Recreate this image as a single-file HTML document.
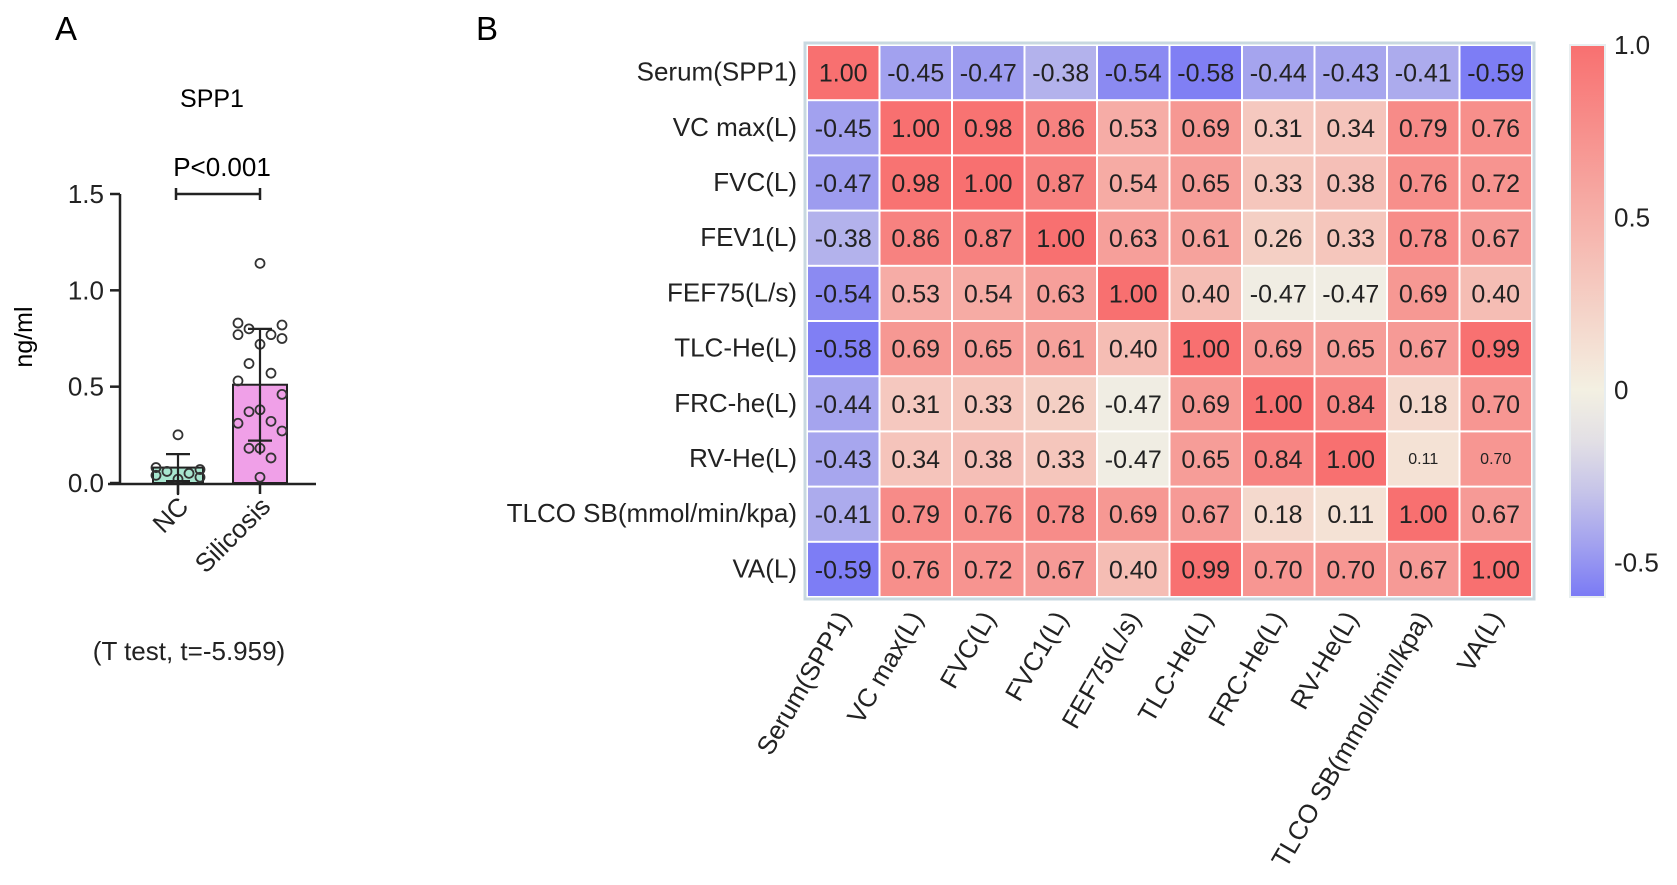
<!DOCTYPE html>
<html><head><meta charset="utf-8">
<style>
html,body{margin:0;padding:0;background:#fff;}
svg{display:block;font-family:"Liberation Sans",Arial,sans-serif;}
</style></head>
<body>
<svg id="fig" width="1677" height="885" viewBox="0 0 1677 885">
<g id="panelA"></g>
<g id="panelB"></g>
</svg>
<script>
// ---------- Panel A data ----------
const groups = ["NC","Silicosis"];
const means = [0.08, 0.51];
const sdUp = [0.15, 0.80];
const sdDown = [0.01, 0.22];
const ncPoints = [0.25, 0.08, 0.07, 0.06, 0.05, 0.04, 0.03, 0.02];
const silPoints = [1.14, 0.83, 0.82, 0.80, 0.77, 0.77, 0.75, 0.72, 0.62, 0.57, 0.53, 0.46, 0.38, 0.37, 0.32, 0.31, 0.27, 0.18, 0.18, 0.13, 0.03];
const yTicksA = [0.0, 0.5, 1.0, 1.5];
const yTickLabelsA = ["0.0","0.5","1.0","1.5"];

// ---------- Panel B data ----------
const rowLabels = ["Serum(SPP1)","VC max(L)","FVC(L)","FEV1(L)","FEF75(L/s)","TLC-He(L)","FRC-he(L)","RV-He(L)","TLCO SB(mmol/min/kpa)","VA(L)"];
const colLabels = ["Serum(SPP1)","VC max(L)","FVC(L)","FVC1(L)","FEF75(L/s)","TLC-He(L)","FRC-He(L)","RV-He(L)","TLCO SB(mmol/min/kpa)","VA(L)"];
const cellText = [
 ["1.00","-0.45","-0.47","-0.38","-0.54","-0.58","-0.44","-0.43","-0.41","-0.59"],
 ["-0.45","1.00","0.98","0.86","0.53","0.69","0.31","0.34","0.79","0.76"],
 ["-0.47","0.98","1.00","0.87","0.54","0.65","0.33","0.38","0.76","0.72"],
 ["-0.38","0.86","0.87","1.00","0.63","0.61","0.26","0.33","0.78","0.67"],
 ["-0.54","0.53","0.54","0.63","1.00","0.40","-0.47","-0.47","0.69","0.40"],
 ["-0.58","0.69","0.65","0.61","0.40","1.00","0.69","0.65","0.67","0.99"],
 ["-0.44","0.31","0.33","0.26","-0.47","0.69","1.00","0.84","0.18","0.70"],
 ["-0.43","0.34","0.38","0.33","-0.47","0.65","0.84","1.00","0.11","0.70"],
 ["-0.41","0.79","0.76","0.78","0.69","0.67","0.18","0.11","1.00","0.67"],
 ["-0.59","0.76","0.72","0.67","0.40","0.99","0.70","0.70","0.67","1.00"]
];
// numeric values used for cell colour (as shown in the picture)
const cellValues = [
 [1.00,-0.45,-0.47,-0.38,-0.54,-0.58,-0.44,-0.43,-0.41,-0.59],
 [-0.45,1.00,0.98,0.86,0.53,0.69,0.31,0.34,0.79,0.76],
 [-0.47,0.98,1.00,0.87,0.54,0.65,0.33,0.38,0.76,0.72],
 [-0.38,0.86,0.87,1.00,0.63,0.61,0.26,0.33,0.78,0.67],
 [-0.54,0.53,0.54,0.63,1.00,0.40,-0.047,-0.047,0.69,0.40],
 [-0.58,0.69,0.65,0.61,0.40,1.00,0.69,0.65,0.67,0.99],
 [-0.44,0.31,0.33,0.26,-0.047,0.69,1.00,0.84,0.18,0.70],
 [-0.43,0.34,0.38,0.33,-0.047,0.65,0.84,1.00,0.11,0.70],
 [-0.41,0.79,0.76,0.78,0.69,0.67,0.18,0.11,1.00,0.67],
 [-0.59,0.76,0.72,0.67,0.40,0.99,0.70,0.70,0.67,1.00]
];
const cbTicks = [1.0, 0.5, 0, -0.5];
const cbTickLabels = ["1.0","0.5","0","-0.5"];

const NS = "http://www.w3.org/2000/svg";
function mk(parent, tag, attrs, text){
  const e = document.createElementNS(NS, tag);
  for (const k in attrs) e.setAttribute(k, attrs[k]);
  if (text !== undefined) e.textContent = text;
  parent.appendChild(e);
  return e;
}
const A = document.getElementById('panelA');
const B = document.getElementById('panelB');

// ---------- Panel A ----------
const yA = v => 483 - v * (483 - 194) / 1.5;
const xA = i => [178, 260][i];
let t;
t = mk(A,'text',{x:66,y:40,'font-size':33,'text-anchor':'middle'},'A');
 
t = mk(A,'text',{x:212,y:107,'font-size':25,'text-anchor':'middle'},'SPP1');
 
t = mk(A,'text',{x:222,y:176,'font-size':26,'text-anchor':'middle'},'P<0.001');
 
const br = mk(A,'g',{stroke:'#222','stroke-width':2.5});
 
mk(br,'line',{x1:xA(0)-2,y1:194,x2:xA(1),y2:194});
mk(br,'line',{x1:xA(0)-2,y1:188,x2:xA(0)-2,y2:200});
mk(br,'line',{x1:xA(1),y1:188,x2:xA(1),y2:200});

const barFill = ['#a8e6cf','#f0a0e8'];
const barW = [50, 54];
groups.forEach((g,i)=>{
  const r = mk(A,'rect',{x:xA(i)-barW[i]/2,y:yA(means[i]),width:barW[i],height:yA(0)-yA(means[i]),fill:barFill[i],stroke:'#222','stroke-width':2});
   
});
function pts(arr, gi, name){
  const offs = [0,-22,22,-11,11,-22,22,0,-11,11,-22,22,0,-11,11,-22,22,0,-11,11,0];
  arr.forEach((v,k)=>{
    const c = mk(A,'circle',{cx:xA(gi)+offs[k%offs.length],cy:yA(v),r:4.5,fill:'none',stroke:'#333','stroke-width':1.8});
     
  });
}
pts(ncPoints,0,'nc'); pts(silPoints,1,'silicosis');
groups.forEach((g,i)=>{
  const eg = mk(A,'g',{stroke:'#222','stroke-width':2.2});
   
  mk(eg,'line',{x1:xA(i),y1:yA(sdUp[i]),x2:xA(i),y2:yA(sdDown[i])+14});
  mk(eg,'line',{x1:xA(i)-12,y1:yA(sdUp[i]),x2:xA(i)+12,y2:yA(sdUp[i])});
  mk(eg,'line',{x1:xA(i)-12,y1:yA(sdDown[i]),x2:xA(i)+12,y2:yA(sdDown[i])});
});
const ax = mk(A,'g',{stroke:'#222','stroke-width':2.5});
 
mk(ax,'line',{x1:120,y1:194,x2:120,y2:484});
const xl = mk(A,'line',{x1:108,y1:484,x2:316,y2:484,stroke:'#222','stroke-width':2.5});


yTicksA.forEach((v,k)=>{
  mk(ax,'line',{x1:110,y1:yA(v),x2:120,y2:yA(v)});
  const tl = mk(A,'text',{x:104,y:yA(v)+9,'font-size':26,'text-anchor':'end',fill:'#222'},yTickLabelsA[k]);
   
});
groups.forEach((g,i)=>{
  mk(A,'line',{x1:xA(i),y1:484,x2:xA(i),y2:494,stroke:'#222','stroke-width':2.5});
  const tl = mk(A,'text',{x:xA(i)+12,y:508,'font-size':26,'text-anchor':'end',fill:'#222',transform:`rotate(-45 ${xA(i)+12} 508)`},g);
   
});
t = mk(A,'text',{x:32,y:337,'font-size':25,'text-anchor':'middle',transform:'rotate(-90 32 337)'},'ng/ml');
 
t = mk(A,'text',{x:189,y:660,'font-size':26,'text-anchor':'middle',fill:'#222'},'(T test, t=-5.959)');
 

// ---------- Panel B ----------
t = mk(B,'text',{x:487,y:40,'font-size':33,'text-anchor':'middle'},'B');
 
const hx0 = 807, hy0 = 45, cw = 72.5, ch = 55.2;
const cx = j => hx0 + j*cw;
const cy = i => hy0 + i*ch;
function colour(v){
  const cream=[243,240,226], red=[248,112,112], blue=[122,122,245];
  let a,b,f;
  if (v>=0){a=cream;b=red;f=Math.min(v,1);} else {a=cream;b=blue;f=Math.min(Math.pow(-v/0.6,1.4),1);}
  return `rgb(${a.map((c,k)=>Math.round(c+(b[k]-c)*f)).join(',')})`;
}
const frame = mk(B,'rect',{x:hx0-2,y:hy0-2,width:cw*10+4,height:ch*10+4,fill:'#fff',stroke:'#c8d8e0','stroke-width':3});
 
cellValues.forEach((row,i)=>{
  row.forEach((v,j)=>{
    const r = mk(B,'rect',{x:cx(j)+1,y:cy(i)+1,width:cw-2,height:ch-2,fill:colour(v)});
     
    const small = (i===7 && (j===8||j===9));
    const tx = mk(B,'text',{x:cx(j)+cw/2,y:cy(i)+ch/2+(small?5:9),'font-size':small?16:25,'text-anchor':'middle',fill:'#222'},cellText[i][j]);
     
  });
});
rowLabels.forEach((l,i)=>{
  const tl = mk(B,'text',{x:797,y:cy(i)+ch/2+8,'font-size':26,'text-anchor':'end',fill:'#222'},l);
   
});
colLabels.forEach((l,j)=>{
  const x = cx(j)+cw/2+8, y = 618;
  const tl = mk(B,'text',{x:x,y:y,'font-size':26,'text-anchor':'end',fill:'#222',transform:`rotate(-60 ${x} ${y})`},l);
   
});
const defs = mk(B,'defs',{});
const lg = mk(defs,'linearGradient',{id:'cbg',x1:0,y1:0,x2:0,y2:1});
const cbTop = 45, cbBot = 597, cbMax = 1.0, cbMin = -0.6;
const cbY = v => cbTop + (cbMax - v) / (cbMax - cbMin) * (cbBot - cbTop);
[1.0,0.5,0,-0.15,-0.3,-0.45,-0.6].forEach(v=>{
  mk(lg,'stop',{offset:((cbY(v)-cbTop)/(cbBot-cbTop)).toFixed(3),'stop-color':colour(v)});
});
const cb = mk(B,'rect',{x:1570,y:cbTop,width:35,height:cbBot-cbTop,fill:'url(#cbg)',stroke:'#e8eef0','stroke-width':2});
 
cbTicks.forEach((v,k)=>{
  const tl = mk(B,'text',{x:1614,y:cbY(v)+9,'font-size':26,fill:'#222'},cbTickLabels[k]);
   
});
</script>
</body></html>
